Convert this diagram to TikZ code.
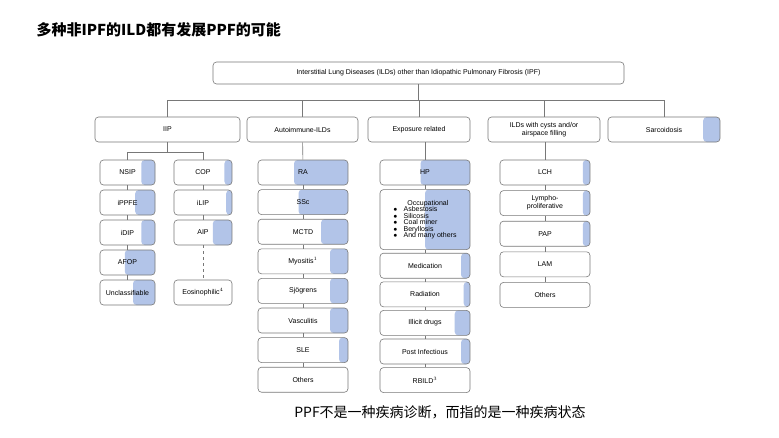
\documentclass[tikz,border=0pt]{standalone}
\usepackage{fontspec}
\setmainfont{Liberation Sans}
\newfontfamily\cjk{Noto Sans CJK SC}
\usetikzlibrary{calc,positioning}
\definecolor{hue}{RGB}{178,196,232}
\definecolor{edge}{RGB}{120,120,120}
\tikzset{
  bx/.style={draw=edge,rounded corners=3.5pt,fill=white,line width=0.6pt,inner sep=1pt,
    font=\fontsize{7}{8}\selectfont,align=center},
  fr/.style={path picture={\fill[hue] ($(path picture bounding box.south east)!#1!(path picture bounding box.south west)$) rectangle (path picture bounding box.north east);}},
  ln/.style={draw=edge,line width=0.6pt}
}
\begin{document}
\begin{tikzpicture}[x=1pt,y=-1pt]
\useasboundingbox[fill=white] (0,0) rectangle (779,437);
% title and caption
\node[anchor=west,font=\cjk\bfseries\fontsize{15}{17}\selectfont] (title) at (33,30) {多种非IPF的ILD都有发展PPF的可能};
\node[font=\cjk\fontsize{14}{16}\selectfont] (cap) at (440,412) {PPF不是一种疾病诊断，而指的是一种疾病状态};
% root
\node[bx,minimum width=411,minimum height=22] (root) at (418.5,73) {Interstitial Lung Diseases (ILDs) other than Idiopathic Pulmonary Fibrosis (IPF)};
% categories
\node[bx,minimum width=145,minimum height=25] (iip) at (167.5,129.5) {IIP};
\node[bx,minimum width=111,minimum height=25] (auto) at (302.5,129.5) {Autoimmune-ILDs};
\node[bx,minimum width=102,minimum height=25] (expo) at (419,129.5) {Exposure related};
\node[bx,minimum width=112,minimum height=25] (cyst) at (544,129.5) {ILDs with cysts and/or\\airspace filling};
\node[bx,fr=0.15,minimum width=112,minimum height=25] (sarc) at (664,129.5) {Sarcoidosis};
\coordinate (hub) at (418.5,100);
\draw[ln] (root) -- (hub);
\foreach \c in {iip,auto,expo,cyst,sarc}
  \draw[ln] (hub -| \c.north) -- (\c.north);
\draw[ln] (hub -| iip.north) -- (hub -| sarc.north);
% IIP
\node[bx,fr=0.25,minimum width=55,minimum height=25] (nsip) at (127.5,172.5) {NSIP};
\node[bx,fr=0.36,minimum width=55,minimum height=25] (ppfe) at (127.5,202.5) {iPPFE};
\node[bx,fr=0.25,minimum width=55,minimum height=25] (dip) at (127.5,232.5) {iDIP};
\node[bx,fr=0.55,minimum width=55,minimum height=25] (afop) at (127.5,262.5) {AFOP};
\node[bx,fr=0.4,minimum width=55,minimum height=25] (uncl) at (127.5,292.5) {Unclassifiable};
\node[bx,fr=0.13,minimum width=58,minimum height=25] (cop) at (203,172.5) {COP};
\node[bx,fr=0.1,minimum width=58,minimum height=25] (lip) at (203,202.5) {iLIP};
\node[bx,fr=0.33,minimum width=58,minimum height=25] (aip) at (203,232.5) {AIP};
\node[bx,minimum width=58,minimum height=25] (eos) at (203,292.5) {Eosinophilic$^{4}$};
\coordinate (ihub) at (167.5,152);
\draw[ln] (iip) -- (ihub);
\draw[ln] (ihub -| nsip.north) -- (ihub -| cop.north);
\draw[ln] (ihub -| nsip.north) -- (nsip.north);
\draw[ln] (ihub -| cop.north) -- (cop.north);
\draw[ln] (nsip) -- (ppfe); \draw[ln] (ppfe) -- (dip); \draw[ln] (dip) -- (afop); \draw[ln] (afop) -- (uncl);
\draw[ln] (cop) -- (lip); \draw[ln] (lip) -- (aip);
\draw[ln,dashed] (aip) -- (eos);
% Autoimmune
\node[bx,fr=0.6,minimum width=90,minimum height=25] (ra) at (303,172.5) {RA};
\node[bx,fr=0.55,below=4pt of ra,minimum width=90,minimum height=25] (ssc) {SSc};
\node[bx,fr=0.3,below=4pt of ssc,minimum width=90,minimum height=25] (mctd) {MCTD};
\node[bx,fr=0.2,below=4pt of mctd,minimum width=90,minimum height=25] (myo) {Myositis$^{1}$};
\node[bx,fr=0.2,below=4pt of myo,minimum width=90,minimum height=25] (sjo) {Sjögrens};
\node[bx,fr=0.2,below=4pt of sjo,minimum width=90,minimum height=25] (vas) {Vasculitis};
\node[bx,fr=0.1,below=4pt of vas,minimum width=90,minimum height=25] (sle) {SLE};
\node[bx,below=4pt of sle,minimum width=90,minimum height=25] (aoth) {Others};
\draw[ln] (auto) -- (ra);
\foreach \a/\b in {ra/ssc,ssc/mctd,mctd/myo,myo/sjo,sjo/vas,vas/sle,sle/aoth}
  \draw[ln] (\a) -- (\b);
% Exposure
\node[bx,fr=0.55,minimum width=90,minimum height=25] (hp) at (425,172.5) {HP};
\node[bx,fr=0.5,below=4pt of hp,minimum width=90,minimum height=60,align=left] (occ)
  {\hspace*{14pt}Occupational\\[-1.5pt]
   $\bullet$\hspace{6pt}Asbestosis\\[-1.5pt]
   $\bullet$\hspace{6pt}Silicosis\\[-1.5pt]
   $\bullet$\hspace{6pt}Coal miner\\[-1.5pt]
   $\bullet$\hspace{6pt}Beryllosis\\[-1.5pt]
   $\bullet$\hspace{6pt}And many others};
\node[bx,fr=0.1,below=3pt of occ,minimum width=90,minimum height=25] (med) {Medication};
\node[bx,fr=0.07,below=3pt of med,minimum width=90,minimum height=25] (rad) {Radiation};
\node[bx,fr=0.17,below=3pt of rad,minimum width=90,minimum height=25] (ill) {Illicit drugs};
\node[bx,fr=0.1,below=3pt of ill,minimum width=90,minimum height=25] (post) {Post Infectious};
\node[bx,below=3pt of post,minimum width=90,minimum height=25] (rb) {RBILD$^{3}$};
\draw[ln] (expo.south -| hp.north) -- (hp);
\foreach \a/\b in {hp/occ,occ/med,med/rad,rad/ill,ill/post,post/rb}
  \draw[ln] (\a) -- (\b);
% Cysts
\node[bx,fr=0.08,minimum width=90,minimum height=25] (lch) at (545,172.5) {LCH};
\node[bx,fr=0.08,below=5pt of lch,minimum width=90,minimum height=25] (lym) {Lympho-\\proliferative};
\node[bx,fr=0.08,below=5pt of lym,minimum width=90,minimum height=25] (pap) {PAP};
\node[bx,below=5pt of pap,minimum width=90,minimum height=25] (lam) {LAM};
\node[bx,below=5pt of lam,minimum width=90,minimum height=25] (coth) {Others};
\draw[ln] (cyst.south -| lch.north) -- (lch);
\foreach \a/\b in {lch/lym,lym/pap,pap/lam,lam/coth}
  \draw[ln] (\a) -- (\b);
\end{tikzpicture}
\end{document}
